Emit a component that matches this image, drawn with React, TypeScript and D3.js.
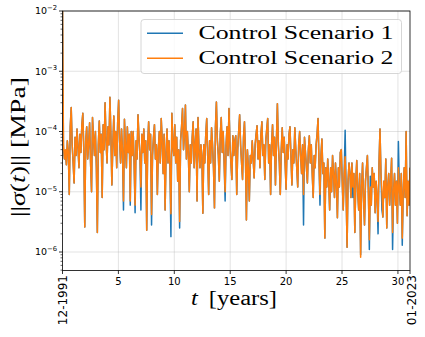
import React, { useEffect, useRef } from 'react'
import * as d3 from 'd3'

const W = 425
const H = 337
const box = { left: 62.5, right: 410, top: 11, bottom: 270.5 }

// time axis: Dec 1991 .. Jan 2023, in years since start
const span = 31.08
const xTicks = [5, 10, 15, 20, 25, 30]
const edgeLabels = ['12-1991', '01-2023']
const yDecades = [-6, -5, -4, -3, -2]
const seriesNames = ['Control Scenario 1', 'Control Scenario 2']
const colors = ['#1f77b4', '#ff7f0e']

// ||sigma(t)|| in Pa (= 1e-6 MPa), evenly spaced in time
const scenario2 = [
  20000, 60, 35, 50, 28, 70, 45, 9, 120, 250, 60, 30, 14, 80, 40, 110, 55, 25, 90, 45,
  130, 200, 50, 2.6, 70, 120, 35, 60, 140, 30, 10, 170, 80, 40, 100, 25, 2.1, 60, 150, 45,
  90, 8, 130, 50, 300, 70, 30, 120, 60, 370, 90, 13, 60, 180, 40, 100, 25, 140, 330, 70,
  30, 110, 45, 7, 160, 60, 25, 120, 45, 90, 7, 100,
  40, 100, 30, 6, 70, 35, 190, 80, 40, 12, 90, 45, 110, 30, 70, 2.3, 60, 145, 50, 90,
  4.2, 40, 80, 130, 35, 60, 9, 50, 100, 30, 165, 70, 20, 90, 5, 45, 110, 30, 70, 25,
  4.3, 200, 60, 40, 130, 30, 80, 15, 50, 3.2, 70, 120, 240, 50, 90, 275, 35, 100, 45, 10,
  60, 30, 80, 145, 25, 60, 110, 7, 170, 50, 25, 60,
  40, 4.4, 60, 30, 90, 165, 40, 9, 70, 30, 115, 60, 25, 5.4, 120, 310, 70, 40, 15, 90,
  170, 45, 100, 30, 10, 60, 120, 40, 240, 60, 30, 16, 85, 40, 70, 85, 9, 50, 100, 190,
  60, 30, 16, 80, 145, 40, 3.4, 50, 25, 7, 40, 30, 70, 35, 17, 60, 90, 125, 35, 70,
  25, 90, 145, 40, 60, 16, 70, 110, 165, 30, 60, 9,
  60, 130, 40, 80, 13, 70, 290, 60, 30, 9, 50, 115, 45, 80, 30, 11, 60, 35, 90, 120,
  40, 13, 50, 30, 115, 50, 25, 12, 60, 100, 40, 20, 60, 9, 80, 45, 25, 14, 50, 85,
  30, 60, 20, 8, 40, 25, 60, 90, 165, 30, 9, 40, 75, 20, 30, 1.7, 25, 12, 35, 15,
  5, 25, 10, 40, 20, 8, 30, 14, 3.7, 25, 12, 45,
  50, 15, 5, 20, 38, 10, 1.2, 15, 30, 20, 8, 30, 12, 20, 2.1, 15, 33, 10, 5, 20,
  0.82, 12, 30, 8, 2.8, 15, 25, 40, 10, 1.6, 12, 6, 25, 12, 20, 4.5, 15, 8, 3.2, 30,
  110, 20, 10, 3.8, 15, 8, 35, 2.5, 12, 20, 6, 15, 36, 2.1, 10, 20, 6, 15, 3, 25,
  12, 6, 20, 1.7, 10, 25, 8, 100, 4, 15, 6, 25,
]

const scenario1 = [
  15000, 50, 35, 45, 28, 70, 45, 9, 120, 250, 60, 30, 14, 80, 40, 110, 55, 25, 90, 45,
  130, 200, 50, 2.6, 70, 120, 35, 60, 140, 30, 10, 170, 80, 40, 100, 25, 2.1, 60, 150, 45,
  90, 8, 130, 50, 300, 70, 30, 120, 60, 370, 90, 13, 60, 180, 40, 100, 25, 140, 330, 70,
  30, 110, 45, 5, 160, 60, 25, 120, 45, 90, 6, 100,
  40, 100, 30, 4.5, 70, 35, 190, 80, 40, 5, 90, 45, 110, 30, 70, 2.3, 60, 145, 50, 90,
  2.8, 40, 80, 130, 35, 60, 9, 50, 100, 30, 165, 70, 20, 90, 5, 45, 110, 30, 70, 25,
  1.8, 200, 60, 40, 130, 30, 80, 15, 50, 2.5, 70, 120, 240, 50, 90, 275, 35, 100, 45, 10,
  60, 30, 80, 145, 25, 60, 110, 7, 170, 50, 25, 60,
  40, 4.4, 60, 30, 90, 165, 40, 9, 70, 30, 115, 60, 25, 5.4, 120, 310, 70, 40, 15, 90,
  170, 45, 100, 30, 7, 60, 120, 40, 240, 60, 30, 16, 85, 40, 70, 85, 9, 50, 100, 190,
  60, 30, 16, 80, 145, 40, 3.4, 50, 25, 7, 40, 30, 70, 35, 17, 60, 90, 125, 35, 70,
  25, 90, 145, 40, 60, 16, 70, 110, 165, 30, 60, 9,
  60, 130, 40, 80, 13, 70, 290, 60, 30, 9, 50, 115, 45, 80, 30, 11, 60, 35, 90, 120,
  40, 13, 50, 30, 115, 50, 25, 12, 60, 100, 40, 20, 60, 2.8, 80, 45, 25, 14, 50, 85,
  30, 60, 20, 8, 40, 25, 60, 90, 165, 30, 6, 40, 75, 20, 30, 1.7, 25, 12, 35, 15,
  5, 25, 10, 40, 20, 8, 30, 14, 3.7, 25, 12, 45,
  50, 15, 5, 20, 105, 10, 1.2, 15, 30, 20, 8, 30, 8, 20, 2.1, 15, 33, 10, 5, 20,
  0.9, 12, 30, 8, 2.8, 15, 25, 40, 10, 1.1, 18, 6, 25, 12, 20, 4.5, 15, 8, 2, 30,
  110, 20, 5, 3.8, 15, 8, 35, 2.5, 12, 20, 6, 15, 36, 1.1, 10, 20, 6, 15, 3, 68,
  12, 6, 20, 1.3, 10, 25, 8, 100, 4, 15, 6, 25,
]

const toMPa = (pa: number) => pa * 1e-6

export default function App() {
  const ref = useRef<SVGSVGElement>(null)

  useEffect(() => {
    const svg = d3.select(ref.current)
    svg.selectAll('*').remove()

    const x = d3.scaleLinear().domain([0, span]).range([box.left, box.right])
    const yLow = Math.pow(10, -6 - 18.5 / 60.25)
    const y = d3.scaleLog().domain([yLow, 1e-2]).range([box.bottom, box.top])

    svg.append('rect').attr('width', W).attr('height', H).attr('fill', '#fff')

    svg.append('defs').append('clipPath').attr('id', 'plot-clip')
      .append('rect')
      .attr('x', box.left).attr('y', box.top)
      .attr('width', box.right - box.left).attr('height', box.bottom - box.top)

    // grid
    const grid = svg.append('g').attr('stroke', '#b0b0b0').attr('stroke-opacity', 0.45).attr('stroke-width', 0.8)
    xTicks.forEach(t => {
      grid.append('line').attr('x1', x(t)).attr('x2', x(t)).attr('y1', box.top).attr('y2', box.bottom)
    })
    yDecades.forEach(d => {
      const yy = y(Math.pow(10, d))
      grid.append('line').attr('x1', box.left).attr('x2', box.right).attr('y1', yy).attr('y2', yy)
    })

    // series
    const plot = svg.append('g').attr('clip-path', 'url(#plot-clip)')
    const line = d3.line<number>()
      .x((_, i, arr) => x((i * span) / (arr.length - 1)))
      .y(v => y(toMPa(v)))
    ;[scenario1, scenario2].forEach((s, k) => {
      plot.append('path')
        .datum(s)
        .attr('d', line)
        .attr('fill', 'none')
        .attr('stroke', colors[k])
        .attr('stroke-width', 1.5)
        .attr('stroke-linejoin', 'round')
    })

    // spines
    svg.append('rect')
      .attr('x', box.left).attr('y', box.top)
      .attr('width', box.right - box.left).attr('height', box.bottom - box.top)
      .attr('fill', 'none').attr('stroke', '#000').attr('stroke-width', 0.8)

    // x ticks
    const xa = svg.append('g').attr('font-family', 'DejaVu Sans').attr('font-size', 10)
    ;[0, ...xTicks, span].forEach(t => {
      xa.append('line').attr('x1', x(t)).attr('x2', x(t))
        .attr('y1', box.bottom).attr('y2', box.bottom + 3.5)
        .attr('stroke', '#000').attr('stroke-width', 0.8)
    })
    xTicks.forEach(t => {
      xa.append('text').attr('x', x(t)).attr('y', 285).attr('text-anchor', 'middle').text(t)
    })
    ;[0, span].forEach((t, i) => {
      xa.append('text')
        .attr('transform', `translate(${x(t) + (i ? 2 : 0)},275) rotate(-90)`)
        .attr('text-anchor', 'end')
        .attr('dominant-baseline', 'central')
        .attr('font-size', 12)
        .text(edgeLabels[i])
    })

    // y ticks (log)
    const ya = svg.append('g').attr('font-family', 'DejaVu Sans')
    yDecades.forEach(d => {
      const yy = y(Math.pow(10, d))
      ya.append('line').attr('x1', box.left - 3.5).attr('x2', box.left)
        .attr('y1', yy).attr('y2', yy).attr('stroke', '#000').attr('stroke-width', 0.8)
      const txt = ya.append('text').attr('x', 57).attr('y', yy + 3.3).attr('text-anchor', 'end').attr('font-size', 9.5)
      txt.append('tspan').text('10')
      txt.append('tspan').attr('font-size', 6.8).attr('dy', -4.5).text(`\u2212${-d}`)
    })
    for (let d = -7; d <= -3; d++) {
      for (let m = 2; m <= 9; m++) {
        const v = m * Math.pow(10, d)
        if (v < yLow || v > 1e-2) continue
        const yy = y(v)
        ya.append('line').attr('x1', box.left - 2).attr('x2', box.left)
          .attr('y1', yy).attr('y2', yy).attr('stroke', '#000').attr('stroke-width', 0.6)
      }
    }

    // axis labels
    const xl = svg.append('text')
      .attr('x', 191).attr('y', 305)
      .attr('font-family', 'Liberation Serif').attr('font-size', 20)
      .attr('textLength', 86).attr('lengthAdjust', 'spacingAndGlyphs')
    xl.append('tspan').attr('font-style', 'italic').text('t')
    xl.append('tspan').text('\u2009 [years]')

    const yl = svg.append('text')
      .attr('transform', 'translate(25,217) rotate(-90)')
      .attr('font-family', 'Liberation Serif').attr('font-size', 20)
      .attr('textLength', 140).attr('lengthAdjust', 'spacingAndGlyphs')
    yl.append('tspan').text('||')
    yl.append('tspan').attr('font-style', 'italic').text('\u03c3')
    yl.append('tspan').text('(')
    yl.append('tspan').attr('font-style', 'italic').text('t')
    yl.append('tspan').text(')||  [MPa]')

    // legend
    const lg = svg.append('g')
    lg.append('rect')
      .attr('x', 141).attr('y', 19.5).attr('width', 260.5).attr('height', 54)
      .attr('rx', 3).attr('fill', '#fff').attr('fill-opacity', 0.8)
      .attr('stroke', '#cccccc').attr('stroke-width', 0.8)
    seriesNames.forEach((name, i) => {
      const yy = 33.3 + i * 25
      lg.append('line').attr('x1', 147).attr('x2', 183).attr('y1', yy).attr('y2', yy)
        .attr('stroke', colors[i]).attr('stroke-width', 1.5)
      lg.append('text').attr('x', 198.5).attr('y', yy + 6)
        .attr('font-family', 'Liberation Serif').attr('font-size', 18)
        .attr('textLength', 195).attr('lengthAdjust', 'spacingAndGlyphs')
        .text(name)
    })
  }, [])

  return (
    <svg ref={ref} width={W} height={H} style={{ position: 'absolute', left: 0, top: 0 }} />
  )
}
